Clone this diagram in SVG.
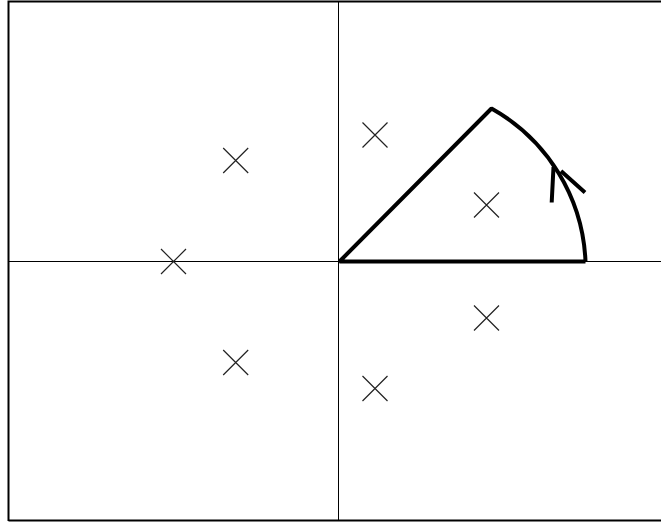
<svg xmlns="http://www.w3.org/2000/svg" width="661" height="523" viewBox="0 0 661 523">
<style>
.thin{stroke:#000;stroke-width:1;fill:none}
.x{stroke:#222;stroke-width:1.2;fill:none}
.thick{stroke:#000;stroke-width:4;fill:none;stroke-linejoin:bevel}
</style>
<defs>
<path id="cross" class="x" d="M-12.5,-12.5L12.5,12.5M-12.5,12.5L12.5,-12.5"/>
</defs>
<rect x="0" y="0" width="661" height="523" fill="#fff"/>
<g id="frame">
<path class="thin" d="M8.5,521V1.5H661M8.5,520.5H661" style="stroke-width:2"/>
</g>
<g id="axes">
<path class="thin" d="M8.5,261.5H661M338.5,1.5V521"/>
</g>
<g id="points">
<use href="#cross" x="235.7" y="160.5"/>
<use href="#cross" x="173.5" y="261.5"/>
<use href="#cross" x="235.7" y="362.5"/>
<use href="#cross" x="375" y="135"/>
<use href="#cross" x="486.5" y="205"/>
<use href="#cross" x="486.5" y="318"/>
<use href="#cross" x="375" y="388.5"/>
</g>
<g id="connectors">
<path class="thick" d="M585.5,261.5H339.5L491.5,108.5A184,184 0 0 1 585.5,261.5"/>
<path class="thick" d="M551.7,202.5L553.5,167M561,171L585,192.5"/>
</g>
</svg>
